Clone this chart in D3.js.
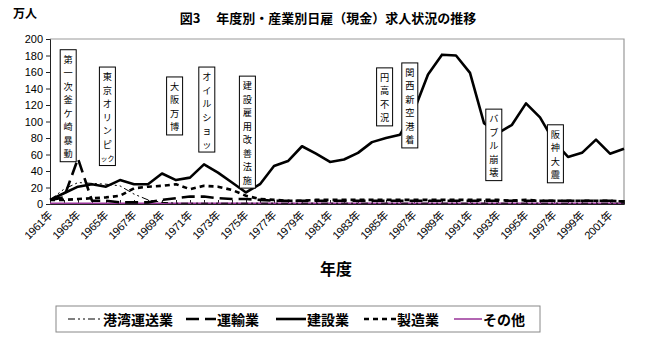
<!DOCTYPE html>
<html>
<head>
<meta charset="utf-8">
<script src="https://cdn.jsdelivr.net/npm/d3@7"></script>
<style>
  html, body { margin: 0; padding: 0; background: #fff; }
  svg { display: block; font-family: "Noto Sans CJK JP", "Noto Sans", sans-serif; }
</style>
</head>
<body>
<svg id="chart" width="650" height="337"></svg>
<script>
// 年度 1961–2002
const years = d3.range(1961, 2003);

// 求人数（万人）
const kowan = [5, 18, 26, 25, 24, 22, 12, 5, 2, 1, 1, 1, 1, 1, 1, 1, 1, 1, 1, 1, 1, 1, 1, 1, 1, 1, 1, 1, 1, 1, 1, 1, 1, 1, 1, 1, 1, 1, 1, 1, 1, 1];
const unyu = [5, 8, 55, 4, 4, 2, 2, 2, 5, 7, 9, 9, 7, 6, 6, 5, 4, 4, 4, 4, 4, 4, 4, 4, 4, 4, 4, 4, 4, 4, 4, 4, 4, 4, 4, 4, 4, 4, 4, 4, 4, 3];
const kensetsu = [5, 13, 21, 24, 21, 29, 24, 24, 37, 29, 32, 48, 38, 26, 14, 24, 46, 52, 70, 61, 51, 54, 62, 75, 80, 84, 113, 157, 181, 180, 159, 98, 86, 96, 122, 105, 76, 57, 62, 78, 61, 67];
const seizo = [5, 5, 6, 7, 8, 10, 19, 21, 22, 24, 18, 22, 21, 17, 10, 6, 5, 4, 4, 5, 5, 5, 5, 5, 5, 5, 5, 5, 5, 5, 5, 5, 5, 4, 5, 4, 4, 4, 4, 4, 4, 3];
const sonota = [1, 1, 1, 1, 1, 1, 1, 1, 1, 1, 1, 1, 1, 1, 1, 1, 1, 1, 1, 1, 1, 1, 1, 1, 1, 1, 1, 1, 1, 1, 1, 1, 1, 1, 1, 1, 1, 1, 1, 1, 1, 1];

const yTicks = [0, 20, 40, 60, 80, 100, 120, 140, 160, 180, 200];
const xTickYears = d3.range(1961, 2002, 2);

// 出来事の注記（位置は年度軸上, 上端は万人軸上）
const eventAt = [1962.3, 1965.1, 1969.9, 1972.2, 1975.1, 1984.9, 1986.7, 1992.7, 1997.1];
const eventTopValue = [187, 166, 154, 166, 155, 165, 171, 115, 96];
const eventTexts = [
  ["第", "一", "次", "釜", "ケ", "崎", "暴", "動"],
  ["東", "京", "オ", "リ", "ン", "ピ", "ック"],
  ["大", "阪", "万", "博"],
  ["オ", "イ", "ル", "シ", "ョ", "ッ"],
  ["建", "設", "雇", "用", "改", "善", "法", "施"],
  ["円", "高", "不", "況"],
  ["関", "西", "新", "空", "港", "着"],
  ["バ", "ブ", "ル", "崩", "壊"],
  ["阪", "神", "大", "震"]
];

const seriesNames = ["港湾運送業", "運輸業", "建設業", "製造業", "その他"];
const seriesValues = [kowan, unyu, kensetsu, seizo, sonota];
const seriesStyle = [
  { color: "#000", width: 1, dash: "7,3,2,3,2,3" },
  { color: "#000", width: 2.6, dash: "13,6" },
  { color: "#000", width: 2.6, dash: null },
  { color: "#000", width: 2.6, dash: "5,4" },
  { color: "#993399", width: 1.5, dash: null }
];

const svg = d3.select("#chart");

const x = d3.scaleLinear().domain([1961, 2002]).range([50, 624]);
const y = d3.scaleLinear().domain([0, 200]).range([204, 39]);

// タイトル
svg.append("text")
  .attr("x", 328).attr("y", 23)
  .attr("text-anchor", "middle")
  .attr("font-size", 13).attr("font-weight", "bold")
  .text("図3\u3000 年度別・産業別日雇（現金）求人状況の推移");

svg.append("text")
  .attr("x", 13).attr("y", 18)
  .attr("font-size", 12).attr("font-weight", "bold")
  .text("万人");

// 枠
svg.append("path")
  .attr("d", `M${x(1961)},${y(200)}H${x(2002)}V${y(0)}`)
  .attr("fill", "none").attr("stroke", "#999").attr("stroke-width", 1.2);

// Y軸
const yAxis = d3.axisLeft(y).tickValues(yTicks).tickSize(4).tickPadding(3);
const gy = svg.append("g").attr("transform", `translate(${x(1961)},0)`).call(yAxis);
gy.select(".domain").attr("stroke", "#222");
gy.selectAll(".tick line").attr("stroke", "#222");
gy.selectAll(".tick text").attr("font-size", 11).attr("fill", "#000")
  .attr("font-family", "Liberation Sans, Arial, sans-serif");

// X軸
const xAxis = d3.axisBottom(x).tickValues(years).tickSize(-4).tickFormat("");
const gx = svg.append("g").attr("transform", `translate(0,${y(0)})`).call(xAxis);
gx.select(".domain").attr("stroke", "#222");
gx.selectAll(".tick line").attr("stroke", "#222");

svg.append("g").selectAll("text")
  .data(xTickYears)
  .join("text")
  .attr("transform", d => `translate(${x(d) + 3},${y(0) + 12}) rotate(-45)`)
  .attr("text-anchor", "end")
  .attr("font-size", 11)
  .attr("font-family", "Liberation Sans, Noto Sans CJK JP, sans-serif")
  .attr("letter-spacing", -0.3)
  .text(d => d + "年");

svg.append("text")
  .attr("x", 336).attr("y", 275)
  .attr("text-anchor", "middle")
  .attr("font-size", 16).attr("font-weight", "bold")
  .text("年度");

// 系列の線
const line = d3.line().x((d, i) => x(years[i])).y(d => y(d));
const order = [4, 0, 3, 1, 2];
order.forEach(k => {
  svg.append("path")
    .datum(seriesValues[k])
    .attr("d", line)
    .attr("fill", "none")
    .attr("stroke", seriesStyle[k].color)
    .attr("stroke-width", seriesStyle[k].width)
    .attr("stroke-dasharray", seriesStyle[k].dash)
    .attr("stroke-linejoin", "round");
});

// 出来事の注記ボックス（一文字ずつ縦に並べる）
const step = 13.5;
const fs = 9.2;
eventAt.forEach((pos, i) => {
  const chars = eventTexts[i];
  const w = 16;
  const cx = x(pos);
  const top = y(eventTopValue[i]);
  const h = chars.length * step + 4;
  const g = svg.append("g");
  g.append("rect")
    .attr("x", cx - w / 2).attr("y", top)
    .attr("width", w).attr("height", h)
    .attr("fill", "#fff").attr("stroke", "#000").attr("stroke-width", 1);
  g.selectAll("text")
    .data(chars)
    .join("text")
    .attr("x", cx)
    .attr("y", (d, j) => top + 13 + j * step)
    .attr("text-anchor", "middle")
    .attr("font-size", d => d.length > 1 ? 7 : fs)
    .text(d => d);
});

// 凡例
const lg = svg.append("g");
lg.append("rect")
  .attr("x", 56).attr("y", 306).attr("width", 484).attr("height", 26)
  .attr("fill", "#fff").attr("stroke", "#888").attr("stroke-width", 1);
const legendX = [68, 186, 276, 364, 454];
const sampleW = [34, 30, 30, 32, 28];
seriesNames.forEach((name, k) => {
  const lx = legendX[k];
  lg.append("line")
    .attr("x1", lx).attr("x2", lx + sampleW[k])
    .attr("y1", 319).attr("y2", 319)
    .attr("stroke", seriesStyle[k].color)
    .attr("stroke-width", seriesStyle[k].width)
    .attr("stroke-dasharray", seriesStyle[k].dash);
  lg.append("text")
    .attr("x", lx + sampleW[k] + 1).attr("y", 324.5)
    .attr("font-size", 14).attr("font-weight", "bold")
    .text(name);
});
</script>
</body>
</html>
